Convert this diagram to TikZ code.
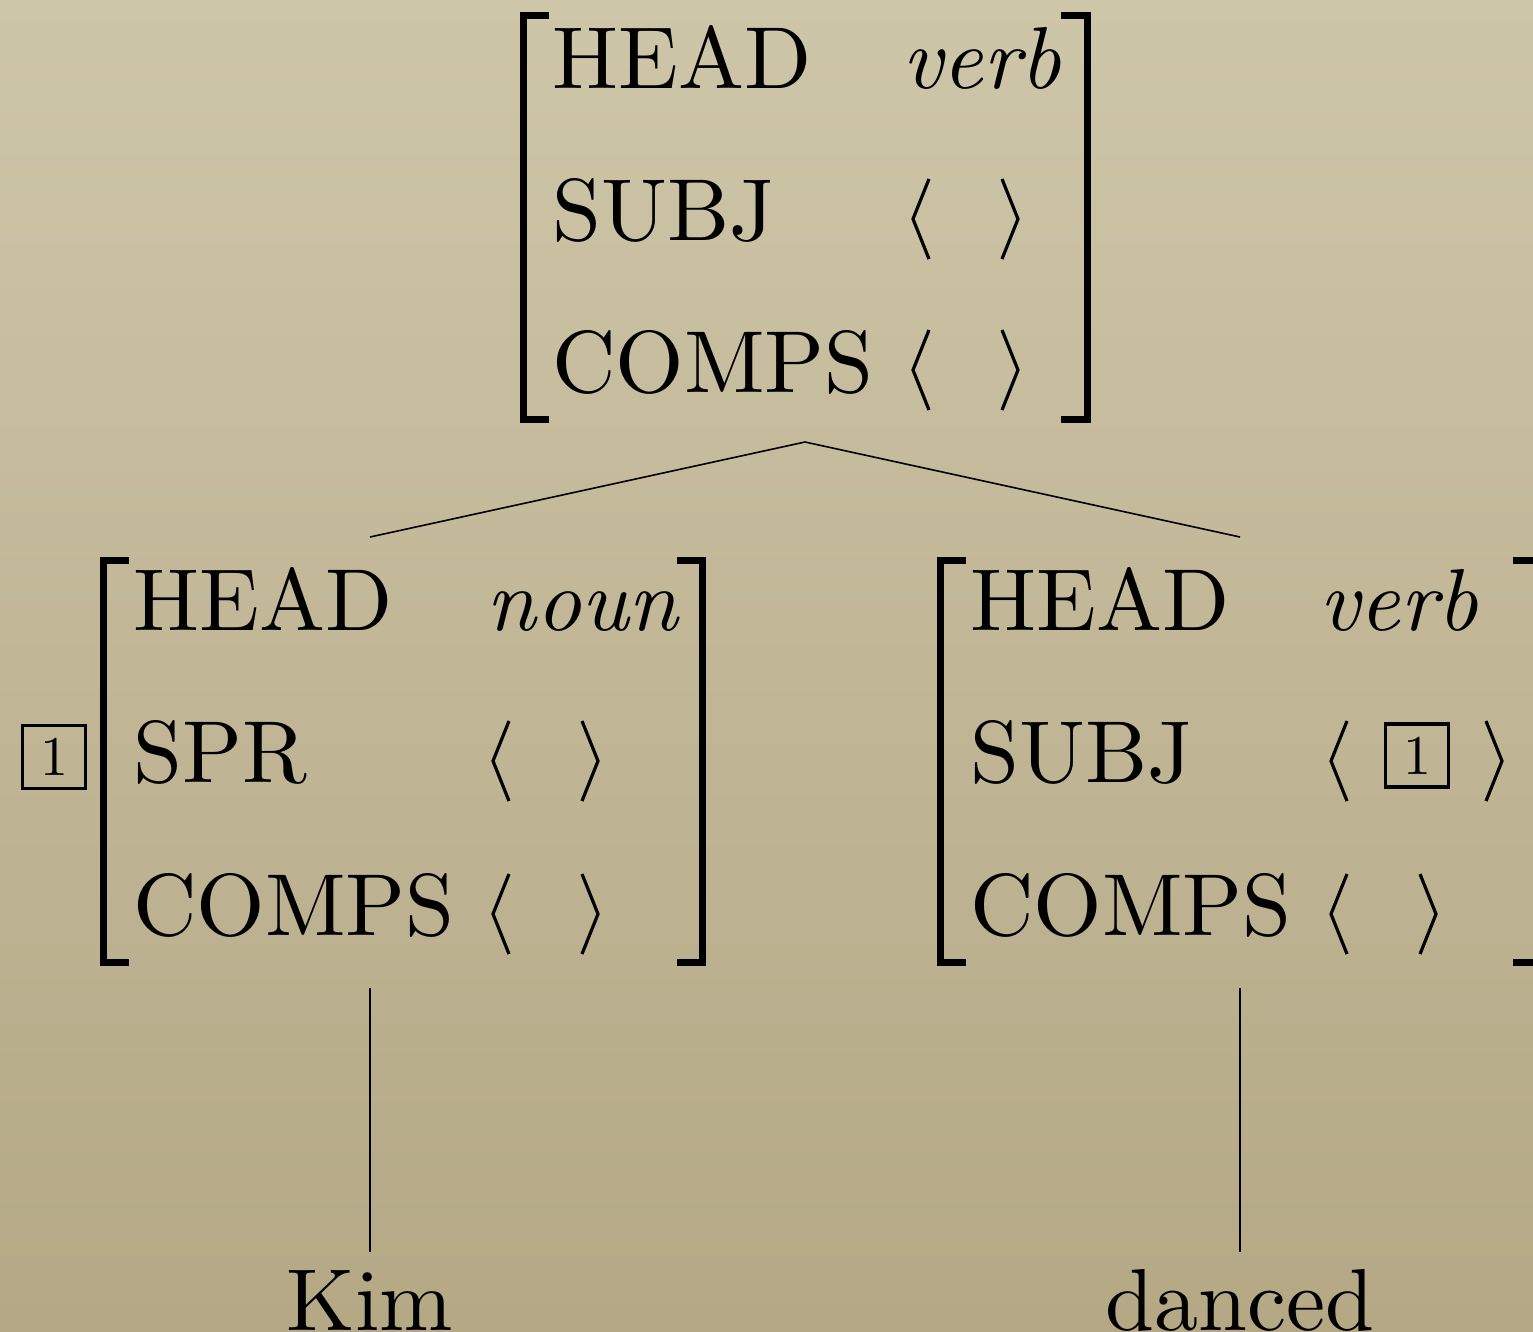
\documentclass[tikz,border=0pt]{standalone}
\usepackage{fontspec}
\setmainfont{lmroman10-regular}[Extension=.otf, ItalicFont=lmroman10-italic]
\newcommand\avmfont{\fontsize{88}{100}\selectfont}
\newcommand\tagfont{\fontsize{56}{60}\selectfont}
\definecolor{papertop}{RGB}{206,198,169}
\definecolor{paperbot}{RGB}{180,168,133}
\tikzset{
  feat/.style={anchor=base west, inner sep=0pt, font=\avmfont},
  val/.style={anchor=base east, inner sep=0pt, font=\avmfont\itshape},
  word/.style={anchor=base, inner sep=0pt, font=\avmfont},
  brk/.style={line width=7pt, line join=miter, line cap=butt},
  ang/.style={line width=3.2pt, line join=miter},
  tagbox/.style={draw, line width=3.6pt, minimum width=63pt, minimum height=63pt,
    inner sep=0pt, font=\tagfont},
  branch/.style={line width=1.6pt},
  lang/.pic={\draw[ang] (8,-40) -- (-8,0) -- (8,40);},
  rang/.pic={\draw[ang] (-8,-40) -- (8,0) -- (-8,40);},
}
\begin{document}
\begin{tikzpicture}[x=1pt, y=-1pt]
  % paper background
  \fill[top color=papertop, bottom color=paperbot] (0,0) rectangle (1533,1331);
  \useasboundingbox (0,0) rectangle (1533,1331);
  \clip (0,0) rectangle (1533,1331);

  % ---- mother: S ----
  \draw[brk] (549,15.5) -- (523.5,15.5) -- (523.5,419.5) -- (549,419.5);
  \draw[brk] (1061,15.5) -- (1087,15.5) -- (1087,419.5) -- (1061,419.5);
  \node[feat] (s-head)  at (552,88)  {HEAD};
  \node[val]  (s-headv) at (1061,88) {verb};
  \node[feat] (s-subj)  at (552,240) {SUBJ};
  \node[feat] (s-comps) at (552,392) {COMPS};
  \pic at (921,219) {lang}; \pic at (1010,219) {rang};
  \pic at (921,370) {lang}; \pic at (1010,370) {rang};
  \coordinate (s-foot) at (805,442);

  % ---- left daughter: NP ----
  \node[tagbox] (np-tag) at (54,757) {1};
  \draw[brk] (129,560.5) -- (103.5,560.5) -- (103.5,962.5) -- (129,962.5);
  \draw[brk] (677,560.5) -- (702,560.5) -- (702,962.5) -- (677,962.5);
  \node[feat] (np-head)  at (133,630) {HEAD};
  \node[val]  (np-headv) at (678,630) {noun};
  \node[feat] (np-spr)   at (133,782) {SPR};
  \node[feat] (np-comps) at (133,935) {COMPS};
  \pic at (501,761) {lang}; \pic at (590,761) {rang};
  \pic at (501,914) {lang}; \pic at (590,914) {rang};
  \coordinate (np-top)  at (370,537);
  \coordinate (np-foot) at (370,988);

  % ---- right daughter: VP ----
  \draw[brk] (966,560.5) -- (940.5,560.5) -- (940.5,962.5) -- (966,962.5);
  \draw[brk] (1513,560.5) -- (1540,560.5) -- (1540,962.5) -- (1513,962.5);
  \node[feat] (vp-head)  at (970,630)  {HEAD};
  \node[val]  (vp-headv) at (1478,630) {verb};
  \node[feat] (vp-subj)  at (970,782)  {SUBJ};
  \node[feat] (vp-comps) at (970,935)  {COMPS};
  \pic at (1339,761) {lang};
  \node[tagbox] (vp-tag) at (1417,755.5) {1};
  \pic at (1494,761) {rang};
  \pic at (1339,914) {lang}; \pic at (1428,914) {rang};
  \coordinate (vp-top)  at (1240,537);
  \coordinate (vp-foot) at (1240,988);

  % ---- words ----
  \node[word] (kim)    at (370,1330)  {Kim};
  \node[word] (danced) at (1240,1330) {danced};
  \coordinate (kim-top)    at (370,1252);
  \coordinate (danced-top) at (1240,1252);

  % ---- branches ----
  \draw[branch] (s-foot) -- (np-top);
  \draw[branch] (s-foot) -- (vp-top);
  \draw[branch] (np-foot) -- (kim-top);
  \draw[branch] (vp-foot) -- (danced-top);
\end{tikzpicture}
\end{document}
